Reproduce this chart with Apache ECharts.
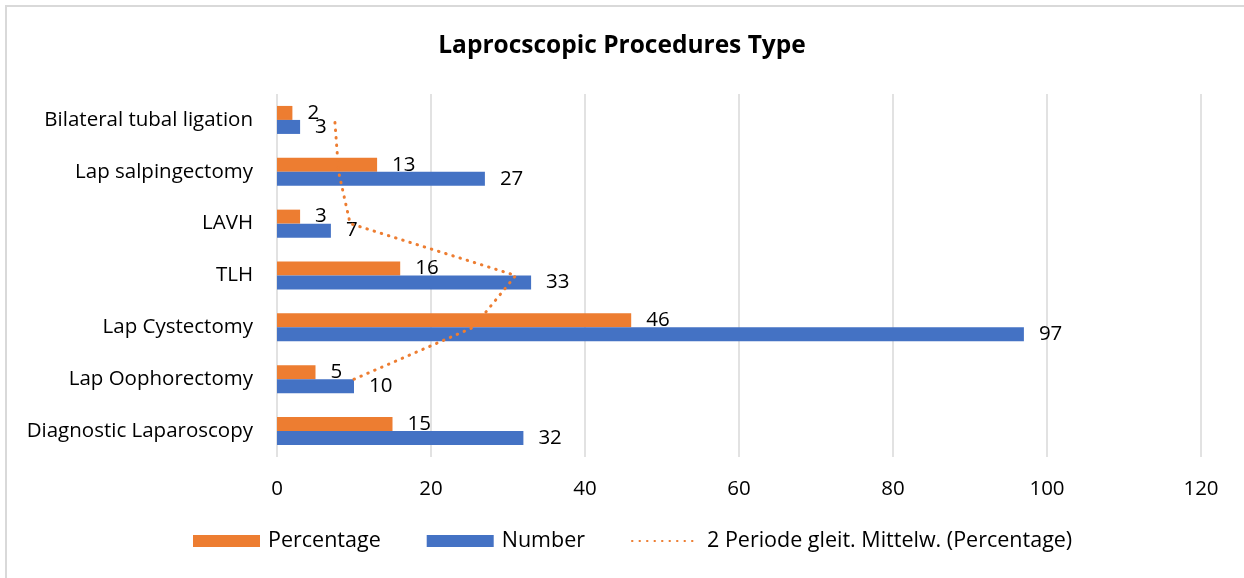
<!DOCTYPE html>
<html>
<head>
<meta charset="utf-8">
<script src="https://cdn.jsdelivr.net/npm/echarts@6/dist/echarts.min.js"></script>
<style>
html,body{margin:0;padding:0;background:#fff;}
#chart{width:1244px;height:578px;}
</style>
</head>
<body>
<div id="chart"></div>
<script>
const categories = ['Diagnostic Laparoscopy','Lap Oophorectomy','Lap Cystectomy','TLH','LAVH','Lap salpingectomy','Bilateral tubal ligation'];
const percentage = [15, 5, 46, 16, 3, 13, 2];
const number = [32, 10, 97, 33, 7, 27, 3];
const movingAvg = [null, 10, 25.5, 31, 9.5, 8, 7.5];
const xTicks = {min: 0, max: 120, interval: 20};

const FONT = '"Open Sans", sans-serif';
const FS = 20.5;
const chart = echarts.init(document.getElementById('chart'));
chart.setOption({
  animation: false,
  title: {
    text: 'Laprocscopic Procedures Type',
    left: 'center', top: 29,
    textStyle: {fontFamily: FONT, fontSize: 24.5, fontWeight: 'bold', color: '#000'}
  },
  graphic: [{
    type: 'rect', shape: {x: 6, y: 6, width: 1300, height: 700},
    style: {fill: 'none', stroke: '#d9d9d9', lineWidth: 2}, silent: true
  }],
  legend: {
    bottom: 21, left: 188,
    itemWidth: 67, itemHeight: 12, itemGap: 46,
    data: [
      {name: 'Percentage', icon: 'rect'},
      {name: 'Number', icon: 'rect'},
      {name: '2 Periode gleit. Mittelw. (Percentage)', itemStyle: {opacity: 0}}
    ],
    textStyle: {fontFamily: FONT, fontSize: 21.5, color: '#000', padding: [0, 0, 0, 3]}
  },
  grid: {left: 277, right: 43, top: 94, bottom: 121, containLabel: false},
  xAxis: {
    type: 'value', min: xTicks.min, max: xTicks.max, interval: xTicks.interval,
    axisLine: {show: false}, axisTick: {show: false},
    splitLine: {lineStyle: {color: '#d9d9d9', width: 1.5}},
    axisLabel: {margin: 22, fontFamily: FONT, fontSize: FS, color: '#000'}
  },
  yAxis: {
    type: 'category', data: categories,
    axisLine: {show: false}, axisTick: {show: false},
    axisLabel: {margin: 24, fontFamily: FONT, fontSize: FS, color: '#000'}
  },
  series: [
    {
      name: 'Percentage', type: 'bar', data: percentage,
      barCategoryGap: '46%', barGap: '0%',
      itemStyle: {color: '#ED7D31'},
      label: {show: true, position: 'right', distance: 15, fontFamily: FONT, fontSize: FS, color: '#000'}
    },
    {
      name: 'Number', type: 'bar', data: number,
      barCategoryGap: '46%', barGap: '0%',
      itemStyle: {color: '#4472C4'},
      label: {show: true, position: 'right', distance: 15, fontFamily: FONT, fontSize: FS, color: '#000'}
    },
    {
      name: '2 Periode gleit. Mittelw. (Percentage)', type: 'line', data: movingAvg,
      symbol: 'none', showSymbol: false,
      itemStyle: {color: '#ED7D31'},
      lineStyle: {color: '#ED7D31', width: 3, type: [0.5, 7], cap: 'round'},
      z: 5
    }
  ]
});
</script>
</body>
</html>
